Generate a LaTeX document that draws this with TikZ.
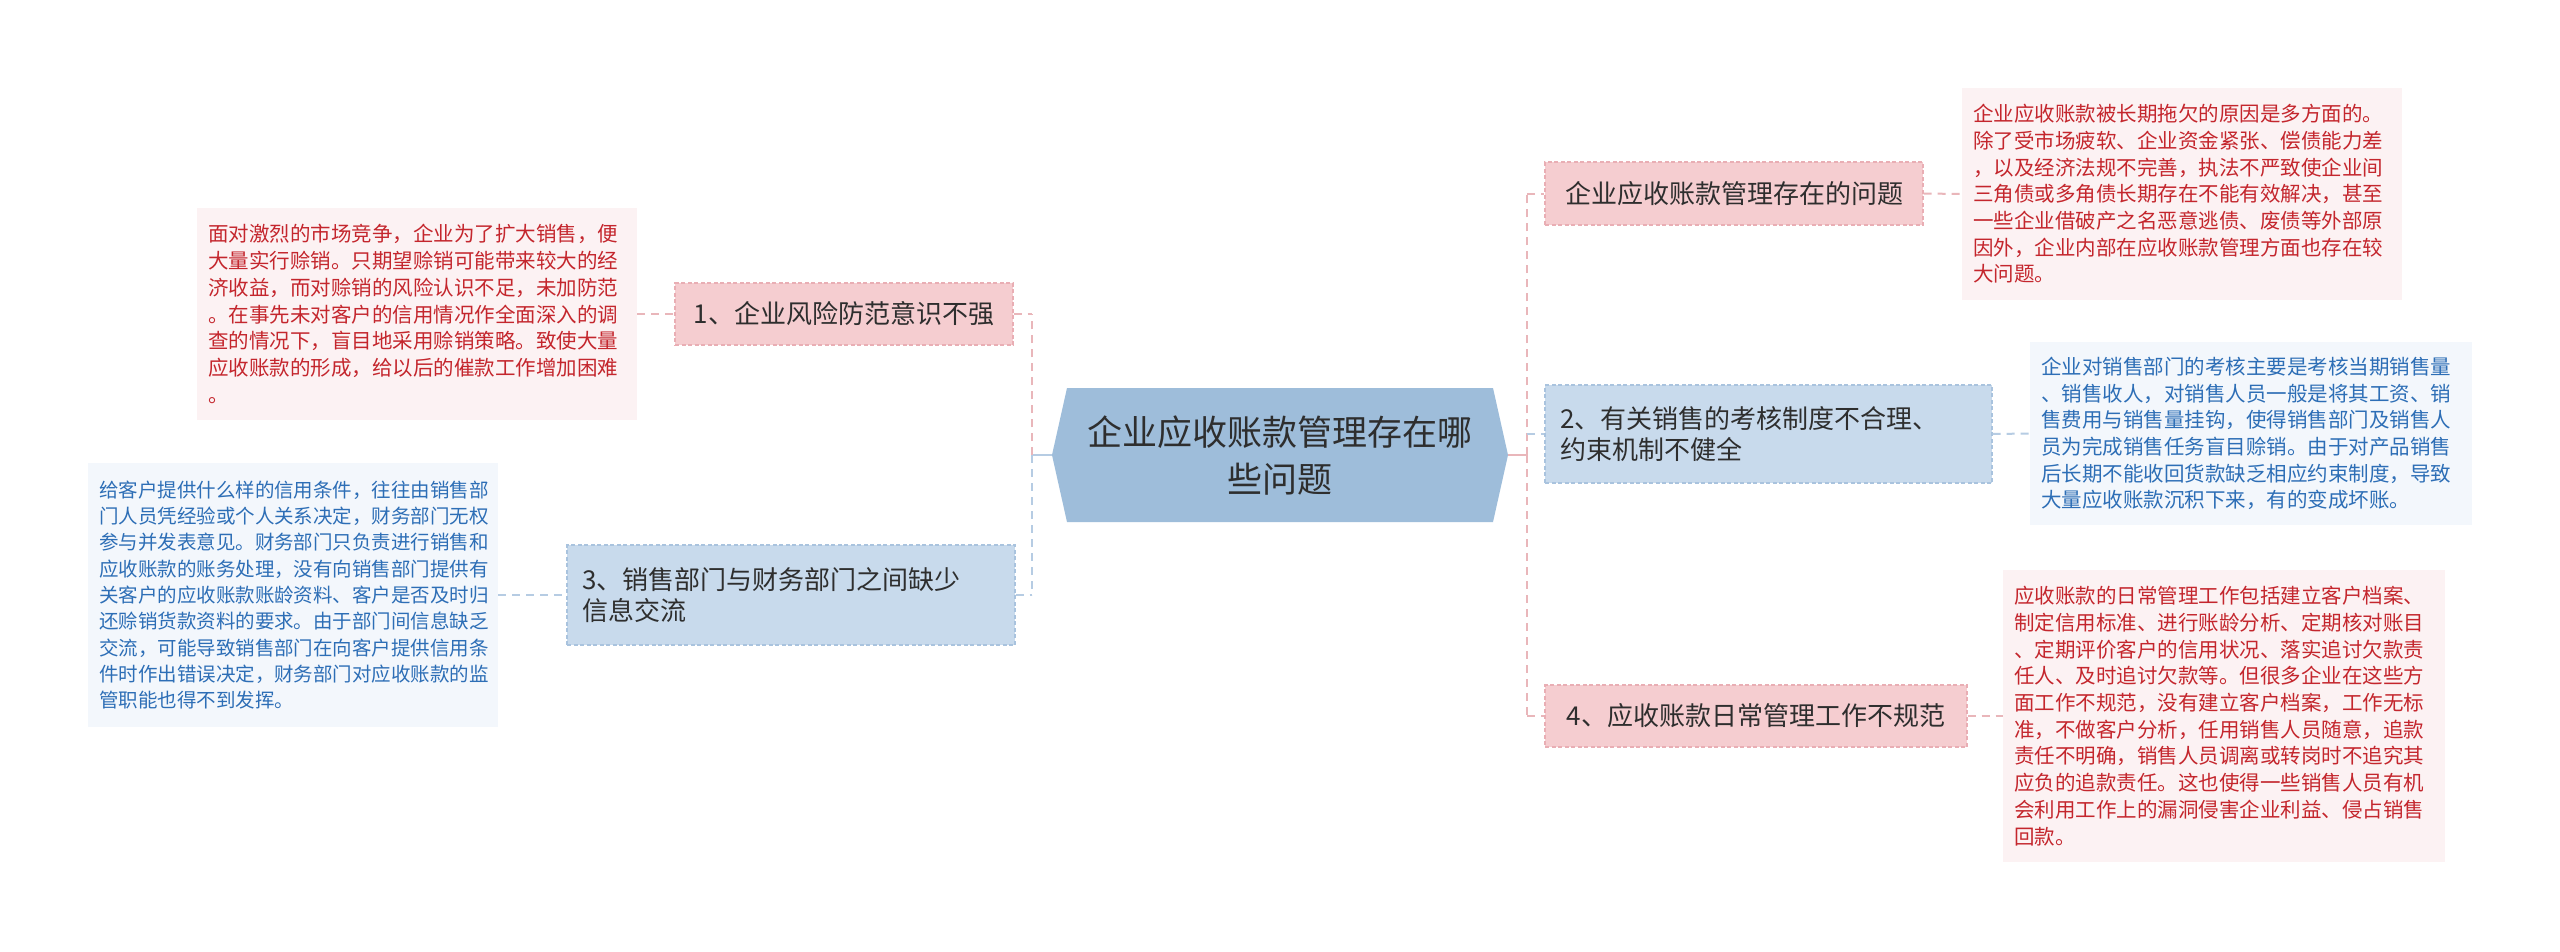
\documentclass[tikz,border=0pt]{standalone}
\usepackage{fontspec}
\setmainfont{Noto Sans CJK SC}
\definecolor{pinkfill}{HTML}{F5CDD0}
\definecolor{pinkedge}{HTML}{E9AEB4}
\definecolor{bluefill}{HTML}{C8DAEC}
\definecolor{blueedge}{HTML}{A9C3DE}
\definecolor{centerfill}{HTML}{9EBDDA}
\definecolor{pinkline}{HTML}{E9B6BA}
\definecolor{blueline}{HTML}{B6CCE3}
\definecolor{redtext}{HTML}{C4262D}
\definecolor{bluetext}{HTML}{2D6EB6}
\definecolor{pinkbg}{HTML}{FCF2F3}
\definecolor{bluebg}{HTML}{F3F7FC}
\definecolor{darktext}{HTML}{2E2E2E}
\tikzset{
  topicbox/.style={draw, dash pattern=on 4pt off 2.5pt, line width=1.2pt, inner ysep=0pt, align=left, text=darktext, font=\fontsize{26}{31}\selectfont},
  pinktopic/.style={topicbox, fill=pinkfill, draw=pinkedge},
  bluetopic/.style={topicbox, fill=bluefill, draw=blueedge},
  detailbox/.style={inner ysep=0pt, inner xsep=11pt, align=left, font=\fontsize{20.5}{26.7}\selectfont},
  reddetail/.style={detailbox, fill=pinkbg, text=redtext},
  bluedetail/.style={detailbox, fill=bluebg, text=bluetext},
  pinkconn/.style={draw=pinkline, line width=2pt, dash pattern=on 8pt off 6pt},
  blueconn/.style={draw=blueline, line width=2pt, dash pattern=on 8pt off 6pt},
}
\begin{document}
\begin{tikzpicture}[x=1pt,y=-1pt]
\useasboundingbox[fill=white] (0,0) rectangle (2560,951);

% central hexagon
\coordinate (cl) at (1052,455);
\coordinate (cr) at (1508,455);
\fill[centerfill] (cl) -- (1067,388) -- (1493,388) -- (cr) -- (1493,522) -- (1067,522) -- cycle;
\node[align=center, text=darktext, font=\fontsize{35}{47}\selectfont] (center) at (1280,456) {企业应收账款管理存在哪\\些问题};

% left topics
\node[pinktopic, minimum width=338pt, minimum height=62pt, align=center] (n1) at (844,314) {1、企业风险防范意识不强};
\node[bluetopic, minimum width=448pt, minimum height=100pt, text width=418pt, inner xsep=15pt] (n3) at (791,595) {3、销售部门与财务部门之间缺少\\信息交流};

% right topics
\node[pinktopic, minimum width=378pt, minimum height=63pt, align=center] (na) at (1734,193.5) {企业应收账款管理存在的问题};
\node[bluetopic, minimum width=447pt, minimum height=98pt, text width=417pt, inner xsep=15pt] (n2) at (1768.5,434) {2、有关销售的考核制度不合理、\\约束机制不健全};
\node[pinktopic, minimum width=422pt, minimum height=62pt, align=center] (n4) at (1756,716) {4、应收账款日常管理工作不规范};

% details
\node[reddetail, minimum width=440pt, minimum height=212pt, text width=418pt] (d1) at (417,314) {面对激烈的市场竞争，企业为了扩大销售，便\\大量实行赊销。只期望赊销可能带来较大的经\\济收益，而对赊销的风险认识不足，未加防范\\。在事先未对客户的信用情况作全面深入的调\\查的情况下，盲目地采用赊销策略。致使大量\\应收账款的形成，给以后的催款工作增加困难\\。};
\node[bluedetail, minimum width=410pt, minimum height=264pt, text width=388pt, font=\fontsize{19.5}{26.3}\selectfont] (d3) at (293,595) {给客户提供什么样的信用条件，往往由销售部\\门人员凭经验或个人关系决定，财务部门无权\\参与并发表意见。财务部门只负责进行销售和\\应收账款的账务处理，没有向销售部门提供有\\关客户的应收账款账龄资料、客户是否及时归\\还赊销货款资料的要求。由于部门间信息缺乏\\交流，可能导致销售部门在向客户提供信用条\\件时作出错误决定，财务部门对应收账款的监\\管职能也得不到发挥。};
\node[reddetail, minimum width=440pt, minimum height=212pt, text width=418pt] (da) at (2182,194) {企业应收账款被长期拖欠的原因是多方面的。\\除了受市场疲软、企业资金紧张、偿债能力差\\，以及经济法规不完善，执法不严致使企业间\\三角债或多角债长期存在不能有效解决，甚至\\一些企业借破产之名恶意逃债、废债等外部原\\因外，企业内部在应收账款管理方面也存在较\\大问题。};
\node[bluedetail, minimum width=442pt, minimum height=183pt, text width=420pt] (d2) at (2251,433.5) {企业对销售部门的考核主要是考核当期销售量\\、销售收人，对销售人员一般是将其工资、销\\售费用与销售量挂钩，使得销售部门及销售人\\员为完成销售任务盲目赊销。由于对产品销售\\后长期不能收回货款缺乏相应约束制度，导致\\大量应收账款沉积下来，有的变成坏账。};
\node[reddetail, minimum width=442pt, minimum height=292pt, text width=420pt] (d4) at (2224,716) {应收账款的日常管理工作包括建立客户档案、\\制定信用标准、进行账龄分析、定期核对账目\\、定期评价客户的信用状况、落实追讨欠款责\\任人、及时追讨欠款等。但很多企业在这些方\\面工作不规范，没有建立客户档案，工作无标\\准，不做客户分析，任用销售人员随意，追款\\责任不明确，销售人员调离或转岗时不追究其\\应负的追款责任。这也使得一些销售人员有机\\会利用工作上的漏洞侵害企业利益、侵占销售\\回款。};

% junction coordinates
\coordinate (lj) at (1032,455);
\coordinate (lt) at (1032,314);
\coordinate (lb) at (1032,595);
\coordinate (rj) at (1527,455);
\coordinate (rt) at (1527,193.5);
\coordinate (rm) at (1527,434);
\coordinate (rb) at (1527,716);

% left connectors
\draw[draw=blueline, line width=2.5pt] (cl) -- (lj);
\draw[pinkconn] (lj) -- (lt);
\draw[blueconn] (lj) -- (lb);
\draw[pinkconn] (n1.east) -- (lt);
\draw[blueconn] (n3.east) -- (lb);
\draw[pinkconn] (d1.east) -- (n1.west);
\draw[blueconn] (d3.east) -- (n3.west);

% right connectors
\draw[draw=pinkline, line width=2.5pt] (cr) -- (rj);
\draw[pinkconn] (rj) -- (rt);
\draw[pinkconn] (rj) -- (rb);
\draw[pinkconn] (rt) -- (na.west);
\draw[blueconn] (rm) -- (n2.west);
\draw[pinkconn] (rb) -- (n4.west);
\draw[pinkconn] (na.east) -- (da.west);
\draw[blueconn] (n2.east) -- (d2.west);
\draw[pinkconn] (n4.east) -- (d4.west);
\end{tikzpicture}
\end{document}
